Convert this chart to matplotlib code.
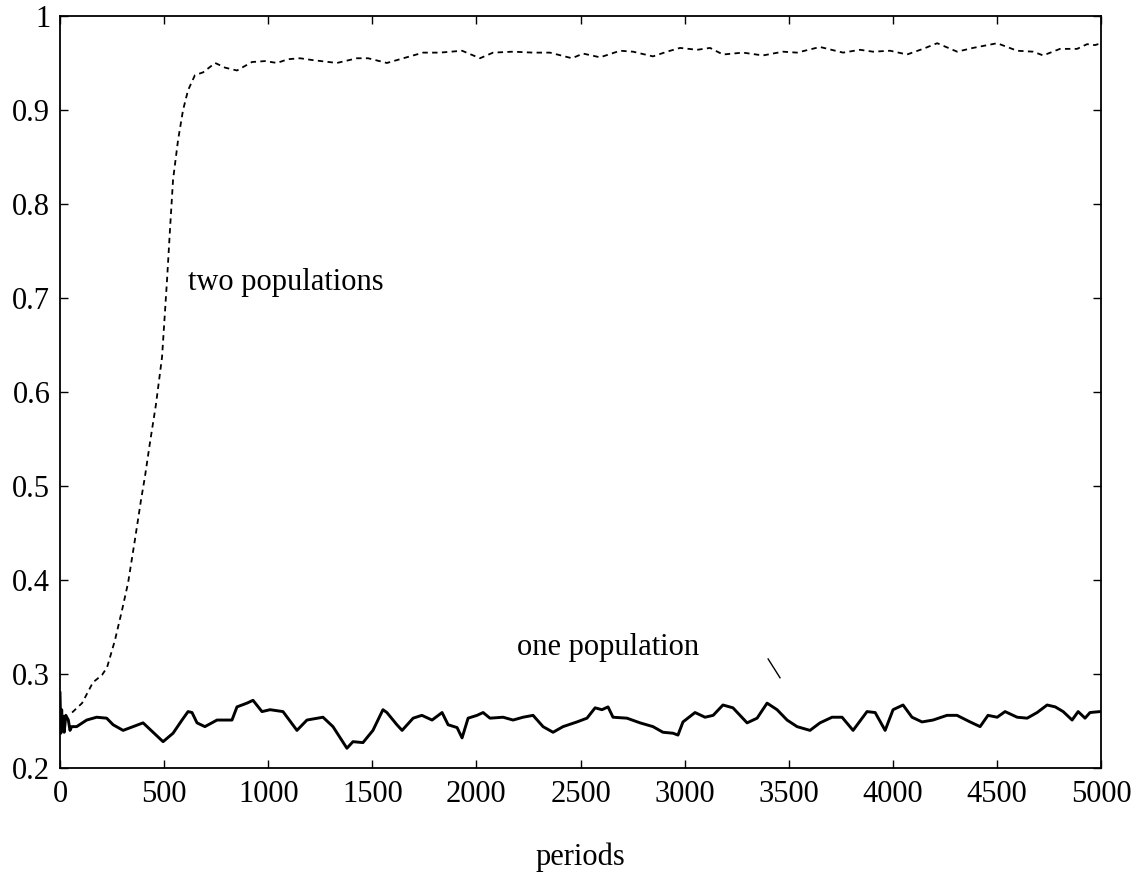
import matplotlib
matplotlib.use("Agg")
import matplotlib.pyplot as plt

# two populations (dashed)
two_x = [58, 106, 158, 202, 226, 264, 298, 327, 360, 389, 408, 432, 461, 490,
         514, 528, 543, 567, 591, 615, 648, 687, 745, 793, 850, 922, 985, 1042,
         1095, 1153, 1215, 1330, 1426, 1480, 1570, 1633, 1744, 1825, 1931, 2017,
         2080, 2176, 2272, 2353, 2459, 2512, 2594, 2690, 2752, 2848, 2915, 2978,
         3060, 3122, 3184, 3280, 3376, 3472, 3540, 3650, 3761, 3842, 3905, 3987,
         4068, 4145, 4213, 4309, 4385, 4501, 4597, 4674, 4722, 4803, 4885, 4933,
         4971, 5000]
two_y = [0.259, 0.269, 0.291, 0.299, 0.307, 0.336, 0.368, 0.397, 0.443, 0.485,
         0.510, 0.546, 0.587, 0.637, 0.719, 0.772, 0.826, 0.868, 0.900, 0.921,
         0.937, 0.940, 0.950, 0.945, 0.942, 0.951, 0.952, 0.950, 0.954, 0.955,
         0.953, 0.950, 0.955, 0.955, 0.950, 0.954, 0.961, 0.961, 0.963, 0.955,
         0.961, 0.962, 0.961, 0.961, 0.955, 0.960, 0.956, 0.963, 0.962, 0.957,
         0.962, 0.966, 0.964, 0.966, 0.959, 0.961, 0.958, 0.962, 0.961, 0.967,
         0.961, 0.964, 0.962, 0.963, 0.959, 0.965, 0.971, 0.962, 0.966, 0.971,
         0.963, 0.962, 0.958, 0.965, 0.965, 0.970, 0.969, 0.971]

# one population (solid)
one_x = [0, 4, 8, 12, 16, 20, 28, 40, 48, 56, 80, 128, 176, 224, 255, 303, 351,
         399, 447, 495, 543, 586, 615, 634, 658, 696, 754, 826, 850, 898, 927,
         970, 1009, 1071, 1138, 1186, 1263, 1311, 1378, 1407, 1455, 1503, 1551,
         1570, 1618, 1643, 1696, 1738, 1787, 1835, 1864, 1907, 1931, 1960, 2003,
         2032, 2065, 2128, 2176, 2224, 2272, 2320, 2368, 2416, 2483, 2531, 2570,
         2603, 2632, 2656, 2723, 2786, 2848, 2896, 2944, 2968, 2992, 3050, 3098,
         3137, 3184, 3232, 3300, 3348, 3396, 3444, 3492, 3540, 3602, 3650, 3708,
         3756, 3809, 3876, 3915, 3963, 4001, 4049, 4092, 4140, 4193, 4260, 4308,
         4371, 4419, 4457, 4501, 4539, 4597, 4645, 4693, 4741, 4780, 4818, 4861,
         4890, 4923, 4947, 4995]
one_y = [0.280, 0.237, 0.262, 0.240, 0.255, 0.238, 0.256, 0.251, 0.240, 0.244,
         0.244, 0.251, 0.254, 0.253, 0.246, 0.240, 0.244, 0.248, 0.238, 0.228,
         0.237, 0.251, 0.260, 0.259, 0.248, 0.244, 0.251, 0.251, 0.265, 0.269,
         0.272, 0.260, 0.262, 0.260, 0.240, 0.251, 0.254, 0.244, 0.221, 0.228,
         0.227, 0.240, 0.262, 0.259, 0.246, 0.240, 0.253, 0.256, 0.251, 0.259,
         0.246, 0.243, 0.232, 0.253, 0.256, 0.259, 0.253, 0.254, 0.251, 0.254,
         0.256, 0.244, 0.238, 0.244, 0.249, 0.253, 0.264, 0.262, 0.265, 0.254,
         0.253, 0.248, 0.244, 0.238, 0.237, 0.235, 0.249, 0.259, 0.254, 0.256,
         0.267, 0.264, 0.248, 0.253, 0.269, 0.262, 0.251, 0.244, 0.240, 0.248,
         0.254, 0.254, 0.240, 0.260, 0.259, 0.240, 0.262, 0.267, 0.254, 0.249,
         0.251, 0.256, 0.256, 0.249, 0.244, 0.256, 0.254, 0.260, 0.254, 0.253,
         0.259, 0.267, 0.265, 0.260, 0.251, 0.260, 0.253, 0.259, 0.260]

x_ticks = [0, 500, 1000, 1500, 2000, 2500, 3000, 3500, 4000, 4500, 5000]
y_ticks = [0.2, 0.3, 0.4, 0.5, 0.6, 0.7, 0.8, 0.9, 1.0]
y_labels = ["0.2", "0.3", "0.4", "0.5", "0.6", "0.7", "0.8", "0.9", "1"]

# little pointer stroke next to "one population"
pointer_x = [3401, 3458]
pointer_y = [0.316, 0.296]

plt.rcParams["font.family"] = ["Liberation Serif", "DejaVu Serif"]

fig = plt.figure(figsize=(11.43, 8.77), dpi=100)
ax = fig.add_axes([0.0525, 0.1243, 0.9108, 0.8575])

ax.plot(two_x, two_y, color="black", lw=1.3, dashes=(3.0, 2.4))
ax.plot(one_x, one_y, color="black", lw=2.1)
ax.plot(pointer_x, pointer_y, color="black", lw=1.0)

ax.text(615, 0.7085, "two populations", fontsize=22, ha="left", va="baseline")
ax.text(2195, 0.320, "one population", fontsize=22, ha="left", va="baseline")

ax.set_xlim(0, 5000)
ax.set_ylim(0.2, 1.0)
ax.set_xticks(x_ticks)
ax.set_yticks(y_ticks)
ax.set_yticklabels(y_labels)
ax.tick_params(direction="in", top=True, right=True, length=6, width=1.0,
               labelsize=22)
ax.tick_params(axis="x", pad=9)
ax.tick_params(axis="y", pad=7)
for s in ax.spines.values():
    s.set_linewidth(1.3)

ax.set_xlabel("periods", fontsize=22, labelpad=24)

plt.savefig("out.png", dpi=100)
